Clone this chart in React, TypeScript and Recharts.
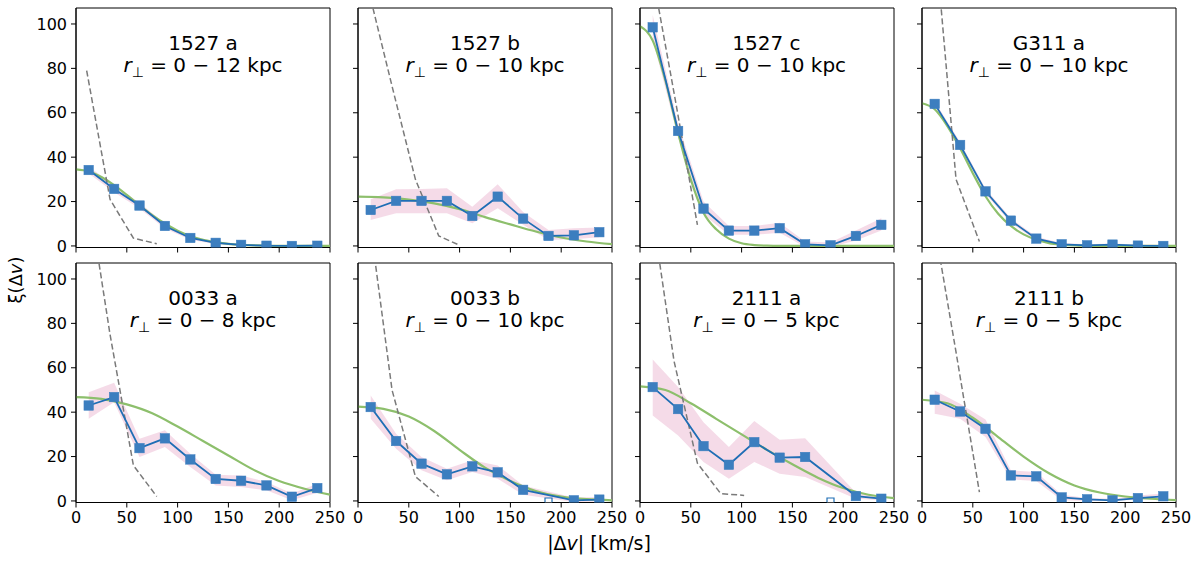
import { ComposedChart, Line, Area, XAxis, YAxis, ReferenceArea } from "recharts";

// velocity bins (bin centres, km/s)
const BINS = [12.5, 37.5, 62.5, 87.5, 112.5, 137.5, 162.5, 187.5, 212.5, 237.5];
const FIT_X_FINE = [0, 12.5, 25, 37.5, 50, 62.5, 75, 87.5, 100, 112.5, 125, 137.5, 150, 162.5, 175, 187.5, 200, 212.5, 225, 237.5, 250];
const FIT_X = [0, 25, 50, 75, 100, 125, 150, 175, 200, 225, 250];
const X_TICKS = [0, 50, 100, 150, 200, 250];
const Y_TICKS = [0, 20, 40, 60, 80, 100];

// 1527 a
const XI_1527A = [34.2, 25.7, 18.2, 9.0, 3.6, 1.4, 0.5, 0.1, 0.0, 0.1];
const LO_1527A = [32.6, 24.2, 16.9, 7.9, 2.8, 0.8, 0.1, -0.3, -0.3, -0.3];
const HI_1527A = [35.8, 27.2, 19.5, 10.1, 4.4, 2.0, 0.9, 0.5, 0.3, 0.5];
const FIT_1527A = [34.5, 33.6, 31.1, 27.4, 23.0, 18.3, 13.9, 10.1, 6.9, 4.5, 2.8, 1.7, 0.9, 0.5, 0.25, 0.1, 0.05, 0, 0, 0, 0];
const MOD_X_1527A = [10.5, 33.5, 56.5, 79.5];
const MOD_1527A = [79, 21, 3.5, 1.0];

// 1527 b
const XI_1527B = [16.2, 20.3, 20.3, 20.3, 13.5, 22.2, 12.3, 4.5, 4.8, 6.2];
const LO_1527B = [11.7, 14.7, 14.7, 14.7, 10.2, 17.0, 9.5, 2.7, 3.0, 3.9];
const HI_1527B = [21.0, 25.5, 25.7, 26.0, 17.7, 27.8, 15.3, 7.2, 8.0, 8.3];
const FIT_1527B = [22.2, 21.9, 20.9, 19.2, 16.6, 13.0, 9.7, 6.5, 3.8, 2.0, 0.8];
const MOD_X_1527B = [10.5, 33.5, 56.5, 79.5, 99];
const MOD_1527B = [115, 72, 30, 4.5, 0.5];

// 1527 c
const XI_1527C = [98.5, 51.8, 16.8, 6.9, 6.9, 8.0, 0.75, 0.3, 4.5, 9.5];
const LO_1527C = [93, 49, 14, 5, 5, 6, -0.5, -0.5, 2.5, 7];
const HI_1527C = [104, 55, 20, 9, 9, 10.5, 2, 1.5, 7, 12.5];
const FIT_1527C = [99, 92.5, 74.5, 51, 30, 15, 7.5, 3.3, 1.2, 0.4, 0.1, 0, 0, 0, 0, 0, 0, 0, 0, 0, 0];
const MOD_X_1527C = [10.5, 33.5, 56.5];
const MOD_1527C = [127, 69, 9.5];

// G311 a
const XI_G311A = [64.0, 45.5, 24.6, 11.4, 3.3, 0.75, 0.3, 0.6, 0.15, 0.0];
const LO_G311A = [62.8, 44.2, 23.4, 10.3, 2.5, 0.2, -0.2, 0.1, -0.3, -0.4];
const HI_G311A = [65.2, 46.8, 25.8, 12.5, 4.1, 1.3, 0.8, 1.1, 0.6, 0.4];
const FIT_G311A = [64.3, 61.6, 54.0, 44.0, 32.8, 22.4, 14.5, 9.0, 5.2, 2.8, 1.3, 0.6, 0.25, 0.1, 0, 0, 0, 0, 0, 0, 0];
const MOD_X_G311A = [10.5, 33.5, 56.5];
const MOD_G311A = [151, 30, 2];

// 0033 a
const XI_0033A = [43.0, 46.8, 23.8, 28.2, 18.7, 9.9, 9.1, 7.0, 1.9, 5.8];
const LO_0033A = [37.0, 44.5, 19.8, 24.3, 15.3, 7.0, 6.3, 4.8, 0.3, 3.7];
const HI_0033A = [49.0, 53.2, 28.0, 31.8, 21.3, 11.8, 11.5, 8.5, 3.3, 7.8];
const FIT_0033A = [46.8, 46.0, 43.5, 39.5, 33.5, 27.0, 20.5, 14.0, 9.0, 5.5, 2.8];
const MOD_X_0033A = [10.5, 33.5, 56.5, 79.5];
const MOD_0033A = [143, 75, 16, 2];

// 0033 b
const XI_0033B = [42.3, 27.0, 16.8, 12.0, 15.6, 12.9, 5.0, null, 0.3, 0.6];
const LO_0033B = [37.0, 23.5, 13.8, 9.3, 13.0, 10.0, 2.8, null, -0.5, -0.3];
const HI_0033B = [47.5, 30.3, 19.8, 14.5, 18.3, 16.0, 7.0, null, 1.5, 1.8];
const FIT_0033B = [42.5, 41.5, 38.0, 31.5, 23.0, 15.0, 9.0, 4.5, 2.0, 0.8, 0.3];
const MOD_X_0033B = [10.5, 33.5, 56.5, 79.5];
const MOD_0033B = [130, 50, 11, 2];

// 2111 a
const XI_2111A = [51.3, 41.4, 24.7, 16.3, 26.5, 19.5, 19.8, null, 2.2, 1.0];
const LO_2111A = [38.5, 29.5, 17.5, 10.0, 17.5, 12.3, 10.8, null, 1.0, 0.3];
const HI_2111A = [63.7, 51.3, 35.5, 24.3, 36.0, 27.6, 28.3, null, 3.7, 2.2];
const FIT_2111A = [51.6, 50.0, 44.0, 37.0, 30.0, 23.0, 16.5, 10.5, 5.8, 2.8, 1.3];
const MOD_X_2111A = [10.5, 33.5, 56.5, 79.5, 102.5];
const MOD_2111A = [135, 63, 17, 3.3, 2.5];

// 2111 b
const XI_2111B = [45.6, 40.3, 32.5, 11.5, 11.1, 1.6, 0.75, 0.3, 1.3, 2.1];
const LO_2111B = [39.3, 37.0, 28.8, 9.7, 9.0, 0.3, 0.0, 0.0, 0.6, 1.0];
const HI_2111B = [49.8, 43.8, 36.7, 13.8, 13.0, 2.8, 1.3, 1.0, 2.5, 3.3];
const FIT_2111B = [45.6, 44.0, 37.5, 28.8, 20.0, 12.5, 7.0, 3.8, 2.0, 1.0, 0.4];
const MOD_X_2111B = [10.5, 33.5, 56.5];
const MOD_2111B = [129, 67, 4];

const PANELS = [
  { name: "1527 a", r: "0 − 12", xi: XI_1527A, lo: LO_1527A, hi: HI_1527A, fitX: FIT_X_FINE, fit: FIT_1527A, modX: MOD_X_1527A, mod: MOD_1527A },
  { name: "1527 b", r: "0 − 10", xi: XI_1527B, lo: LO_1527B, hi: HI_1527B, fitX: FIT_X, fit: FIT_1527B, modX: MOD_X_1527B, mod: MOD_1527B },
  { name: "1527 c", r: "0 − 10", xi: XI_1527C, lo: LO_1527C, hi: HI_1527C, fitX: FIT_X_FINE, fit: FIT_1527C, modX: MOD_X_1527C, mod: MOD_1527C },
  { name: "G311 a", r: "0 − 10", xi: XI_G311A, lo: LO_G311A, hi: HI_G311A, fitX: FIT_X_FINE, fit: FIT_G311A, modX: MOD_X_G311A, mod: MOD_G311A },
  { name: "0033 a", r: "0 − 8", xi: XI_0033A, lo: LO_0033A, hi: HI_0033A, fitX: FIT_X, fit: FIT_0033A, modX: MOD_X_0033A, mod: MOD_0033A },
  { name: "0033 b", r: "0 − 10", xi: XI_0033B, lo: LO_0033B, hi: HI_0033B, fitX: FIT_X, fit: FIT_0033B, modX: MOD_X_0033B, mod: MOD_0033B },
  { name: "2111 a", r: "0 − 5", xi: XI_2111A, lo: LO_2111A, hi: HI_2111A, fitX: FIT_X, fit: FIT_2111A, modX: MOD_X_2111A, mod: MOD_2111A },
  { name: "2111 b", r: "0 − 5", xi: XI_2111B, lo: LO_2111B, hi: HI_2111B, fitX: FIT_X, fit: FIT_2111B, modX: MOD_X_2111B, mod: MOD_2111B },
];

const COL_X = [76, 358, 639.5, 922];
const ROW_Y = [8, 262.7];
const PW = 254;
const PH = 239.5;
const Y_MIN = -0.7;
const Y_MAX = 107.2;
const FONT = "'DejaVu Sans', sans-serif";

const BLUE_LINE = "#1f6eb5";
const BLUE_MARK = "#3c7ebf";

function buildRows(p: any) {
  const rows = new Map<number, any>();
  const get = (x: number) => {
    if (!rows.has(x)) rows.set(x, { x });
    return rows.get(x);
  };
  BINS.forEach((x, i) => {
    const r = get(x);
    if (p.xi[i] !== null) {
      r.xi = p.xi[i];
      r.band = [p.lo[i], p.hi[i]];
    } else {
      r.missing = Y_MIN;
    }
  });
  p.fitX.forEach((x: number, i: number) => (get(x).fit = p.fit[i]));
  p.modX.forEach((x: number, i: number) => (get(x).mod = p.mod[i]));
  return Array.from(rows.values()).sort((a, b) => a.x - b.x);
}

const squareDot = (props: any) => {
  const { cx, cy, value, index } = props;
  if (cx == null || cy == null || value == null) return <g key={"s" + index} />;
  return <rect key={"s" + index} x={cx - 4.75} y={cy - 4.75} width={9.5} height={9.5} fill={BLUE_MARK} stroke={BLUE_MARK} strokeWidth={0.5} />;
};

const openDot = (props: any) => {
  const { cx, cy, value, index } = props;
  if (cx == null || cy == null || value == null) return <g key={"o" + index} />;
  return <path key={"o" + index} d={`M${cx - 3.5},${cy} V${cy - 4.5} H${cx + 3.5} V${cy}`} fill="#fff" stroke={BLUE_LINE} strokeWidth={1.2} />;
};

function Panel({ p, col, row }: { p: any; col: number; row: number }) {
  const rows = buildRows(p);
  const left = COL_X[col];
  const top = ROW_Y[row];
  const hasMissing = p.xi.some((v: any) => v === null);
  return (
    <>
      <div style={{ position: "absolute", left: left - 50, top: top - 10 }}>
        <ComposedChart width={50 + PW + 20} height={10 + PH + 30} data={rows} margin={{ top: 10, right: 20, bottom: 0, left: 0 }}>
          <XAxis
            dataKey="x"
            type="number"
            domain={[0, 250]}
            ticks={X_TICKS}
            allowDataOverflow
            height={30}
            tickSize={5}
            tickMargin={4}
            axisLine={{ stroke: "#000" }}
            tickLine={{ stroke: "#000" }}
            tick={{ fontSize: 16, fill: "#000", fontFamily: FONT }}
            tickFormatter={row === 1 ? (v: number) => String(v) : () => ""}
          />
          <YAxis
            type="number"
            domain={[Y_MIN, Y_MAX]}
            ticks={Y_TICKS}
            allowDataOverflow
            width={50}
            tickSize={5}
            tickMargin={4}
            axisLine={{ stroke: "#000" }}
            tickLine={{ stroke: "#000" }}
            tick={{ fontSize: 16, fill: "#000", fontFamily: FONT }}
            tickFormatter={col === 0 ? (v: number) => String(v) : () => ""}
          />
          <Area dataKey="band" type="linear" fill="#f0c8dc" fillOpacity={0.65} stroke="none" connectNulls isAnimationActive={false} />
          <Line dataKey="fit" type="monotone" stroke="#8dbf6c" strokeWidth={2.2} dot={false} connectNulls isAnimationActive={false} />
          <Line dataKey="mod" type="linear" stroke="#7a7a7a" strokeWidth={1.5} strokeDasharray="6 3" dot={false} connectNulls isAnimationActive={false} />
          <Line dataKey="xi" type="linear" stroke={BLUE_LINE} strokeWidth={1.8} dot={squareDot} connectNulls isAnimationActive={false} />
          {hasMissing && (
            <Line dataKey="missing" stroke="none" dot={openDot} connectNulls isAnimationActive={false} />
          )}
          <ReferenceArea x1={0} x2={250} y1={Y_MIN} y2={Y_MAX} fill="none" fillOpacity={0} stroke="#000" strokeWidth={1} />
        </ComposedChart>
      </div>
      <div
        style={{
          position: "absolute",
          left,
          top: top + 24,
          width: PW,
          textAlign: "center",
          fontFamily: FONT,
          fontSize: 20,
          lineHeight: "22px",
          color: "#000",
        }}
      >
        <div>{p.name}</div>
        <div>
          <i>r</i>
          <span style={{ fontSize: 14, position: "relative", top: 5 }}>⊥</span> = {p.r} kpc
        </div>
      </div>
    </>
  );
}

export default function App() {
  return (
    <div style={{ position: "absolute", left: 0, top: 0, width: 1200, height: 563, background: "#fff", overflow: "hidden" }}>
      {PANELS.map((p, i) => (
        <Panel key={p.name} p={p} col={i % 4} row={Math.floor(i / 4)} />
      ))}
      <div
        style={{
          position: "absolute",
          left: 16 - 40,
          top: 280 - 11,
          width: 80,
          textAlign: "center",
          transform: "rotate(-90deg)",
          fontFamily: FONT,
          fontSize: 18,
          lineHeight: "22px",
        }}
      >
        ξ(Δ<i>v</i>)
      </div>
      <div
        style={{
          position: "absolute",
          left: 599 - 100,
          top: 543 - 12,
          width: 200,
          textAlign: "center",
          fontFamily: FONT,
          fontSize: 19,
          lineHeight: "24px",
        }}
      >
        |Δ<i>v</i>| [km/s]
      </div>
    </div>
  );
}
